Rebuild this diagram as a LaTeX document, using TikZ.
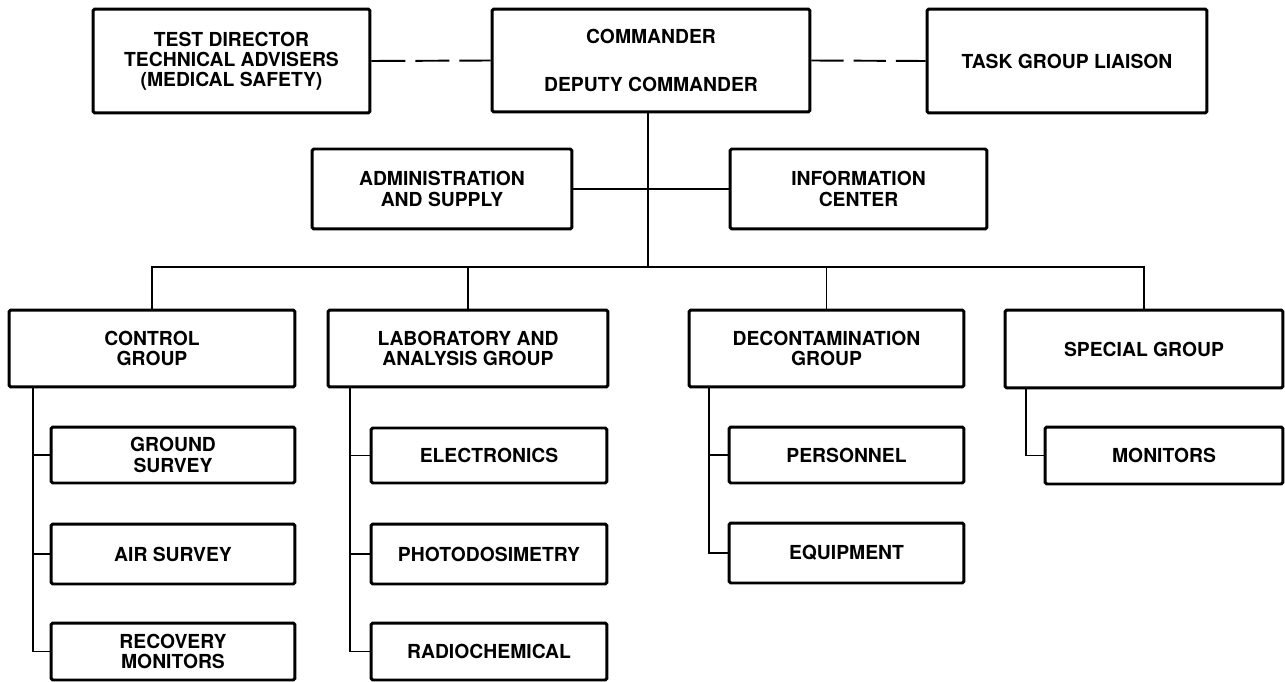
\documentclass[tikz,border=0pt]{standalone}
\usepackage{fontspec}
\setmainfont{TeX Gyre Heros}

\begin{document}
\begin{tikzpicture}[x=0.02cm, y=-0.02cm,
    box/.style={draw, line width=1.7pt, rounded corners=1pt, inner sep=0pt,
      align=center, font=\fontsize{11}{11.5}\selectfont\bfseries},
    link/.style={line width=1.1pt}]
  \useasboundingbox (0,0) rectangle (1285,682);

  % top row
  \node[box, minimum width=5.54cm, minimum height=2.08cm] (td) at (231.5,61)
    {TEST DIRECTOR\\TECHNICAL ADVISERS\\(MEDICAL SAFETY)};
  \node[box, minimum width=6.36cm, minimum height=2.06cm] (cmd) at (651,60.5)
    {COMMANDER\\[16pt]DEPUTY COMMANDER};
  \node[box, minimum width=5.6cm, minimum height=2.08cm] (tgl) at (1067,61)
    {TASK GROUP LIAISON};
  \draw[link, dash pattern=on 19.3pt off 5.7pt] (td.east) -- (cmd.west);
  \draw[link, dash pattern=on 18.3pt off 5.7pt] (cmd.east) -- (tgl.west);

  % staff
  \node[box, minimum width=5.2cm, minimum height=1.6cm] (adm) at (442,189)
    {ADMINISTRATION\\AND SUPPLY};
  \node[box, minimum width=5.14cm, minimum height=1.6cm] (inf) at (858.5,189)
    {INFORMATION\\CENTER};
  \draw[link] (adm.east) -- (inf.west);

  % groups
  \node[box, minimum width=5.72cm, minimum height=1.54cm] (ctl) at (152,348.5)
    {CONTROL\\GROUP};
  \node[box, minimum width=5.6cm, minimum height=1.54cm] (lab) at (468,348.5)
    {LABORATORY AND\\ANALYSIS GROUP};
  \node[box, minimum width=5.5cm, minimum height=1.54cm] (dec) at (826.5,348.5)
    {DECONTAMINATION\\GROUP};
  \node[box, minimum width=5.56cm, minimum height=1.56cm] (spc) at (1144,349)
    {SPECIAL GROUP};

  \coordinate (bus) at (648,267);
  \draw[link] (cmd.south -| bus) -- (bus);
  \draw[link] (ctl.north) |- (bus) -| (spc.north);
  \draw[link] (lab.north) -- (lab.north |- bus);
  \draw[link] (dec.north) -- (dec.north |- bus);

  % sections
  \node[box, minimum width=4.88cm, minimum height=1.12cm] (gs) at (173,455) {GROUND\\SURVEY};
  \node[box, minimum width=4.88cm, minimum height=1.2cm] (as) at (173,554) {AIR SURVEY};
  \node[box, minimum width=4.88cm, minimum height=1.14cm] (rm) at (173,651.5) {RECOVERY\\MONITORS};

  \node[box, minimum width=4.72cm, minimum height=1.1cm] (el) at (489,455.5) {ELECTRONICS};
  \node[box, minimum width=4.72cm, minimum height=1.2cm] (ph) at (489,554) {PHOTODOSIMETRY};
  \node[box, minimum width=4.72cm, minimum height=1.14cm] (rc) at (489,651.5) {RADIOCHEMICAL};

  \node[box, minimum width=4.7cm, minimum height=1.12cm] (pe) at (846.5,455) {PERSONNEL};
  \node[box, minimum width=4.7cm, minimum height=1.2cm] (eq) at (846.5,553) {EQUIPMENT};

  \node[box, minimum width=4.76cm, minimum height=1.14cm] (mo) at (1164,455.5) {MONITORS};

  \coordinate (ctlsp) at (33,388);
  \coordinate (labsp) at (350,388);
  \coordinate (decsp) at (709,388);
  \coordinate (spcsp) at (1026,389);
  \foreach \s in {gs,as,rm} \draw[link] (ctlsp) |- (\s.west);
  \foreach \s in {el,ph,rc} \draw[link] (labsp) |- (\s.west);
  \foreach \s in {pe,eq} \draw[link] (decsp) |- (\s.west);
  \draw[link] (spcsp) |- (mo.west);
\end{tikzpicture}
\end{document}
